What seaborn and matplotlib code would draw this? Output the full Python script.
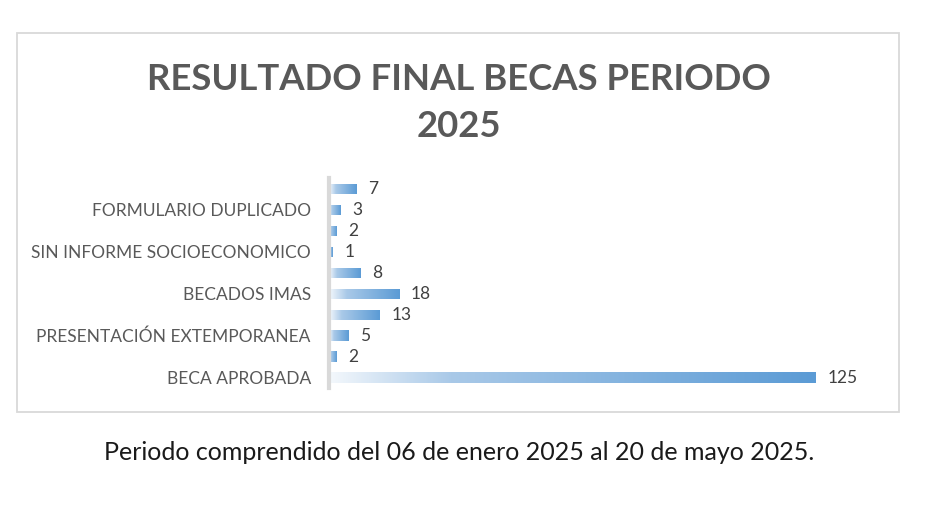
import matplotlib
matplotlib.use('Agg')
import numpy as np
import pandas as pd
import matplotlib.pyplot as plt
import seaborn as sns
from matplotlib.colors import LinearSegmentedColormap
from matplotlib.patches import Rectangle

# datos (de arriba hacia abajo)
categorias = ["c1", "c2", "c3", "c4", "c5", "c6", "c7", "c8", "c9", "c10"]
etiquetas = ["", "FORMULARIO DUPLICADO", "", "SIN INFORME SOCIOECONOMICO", "",
             "BECADOS IMAS", "", "PRESENTACIÓN EXTEMPORANEA", "", "BECA APROBADA"]
valores = [7, 3, 2, 1, 8, 18, 13, 5, 2, 125]

titulo = "RESULTADO FINAL BECAS PERIODO\n2025"
nota = "Periodo comprendido del 06 de enero 2025 al 20 de mayo 2025."

df = pd.DataFrame({"cat": categorias, "val": valores})

sns.set_style("white")
plt.rcParams['font.family'] = ['Lato', 'DejaVu Sans']

fig = plt.figure(figsize=(9.37, 5.07), dpi=100)
ax = fig.add_axes([0.351, 0.2347, 0.582, 0.414])

sns.barplot(data=df, x="val", y="cat", orient="h", width=0.48,
            color="#5B9BD5", ax=ax)

# degradado blanco -> azul dentro de cada barra
cmap = LinearSegmentedColormap.from_list(
    "grad", [(0, "#F4F8FC"), (0.25, "#A9C9E8"), (1, "#5B9BD5")])
grad = np.linspace(0, 1, 256).reshape(1, -1)
for p in ax.patches:
    x0, y0 = p.get_x(), p.get_y()
    w, h = p.get_width(), p.get_height()
    p.set_facecolor("none")
    p.set_edgecolor("none")
    im = ax.imshow(grad, cmap=cmap, aspect="auto",
                   extent=(x0, x0 + w, y0 + h, y0), zorder=2)
    im.set_clip_path(p)

for i, v in enumerate(valores):
    ax.text(v + 3.0, i, str(v), va="center", ha="left", fontsize=12.5,
            color="#404040")

ax.set_xlim(0, 140)
ax.set_ylim(len(valores) - 0.5, -0.5)
ax.set_yticks(range(len(etiquetas)))
ax.set_yticklabels(etiquetas, fontsize=12.5, color="#595959")
ax.set_xticks([])
ax.set_xlabel("")
ax.set_ylabel("")
ax.tick_params(axis="y", length=0, pad=13)
for s in ["top", "right", "bottom"]:
    ax.spines[s].set_visible(False)
ax.spines["left"].set_color("#D9D9D9")
ax.spines["left"].set_linewidth(3)

# marco del gráfico
fig.patches.append(Rectangle((17 / 937, 1 - 412 / 507), 882 / 937, 379 / 507,
                             transform=fig.transFigure, fill=False,
                             edgecolor="#D9D9D9", linewidth=1.3))

fig.text(0.49, 1 - 103 / 507, titulo, ha="center", va="center",
         fontsize=26.3, fontweight="bold", color="#595959", linespacing=1.55)
fig.text(0.49, 1 - 452 / 507, nota, ha="center", va="center",
         fontsize=18, color="#1a1a1a")

fig.savefig("out.png", dpi=100)
